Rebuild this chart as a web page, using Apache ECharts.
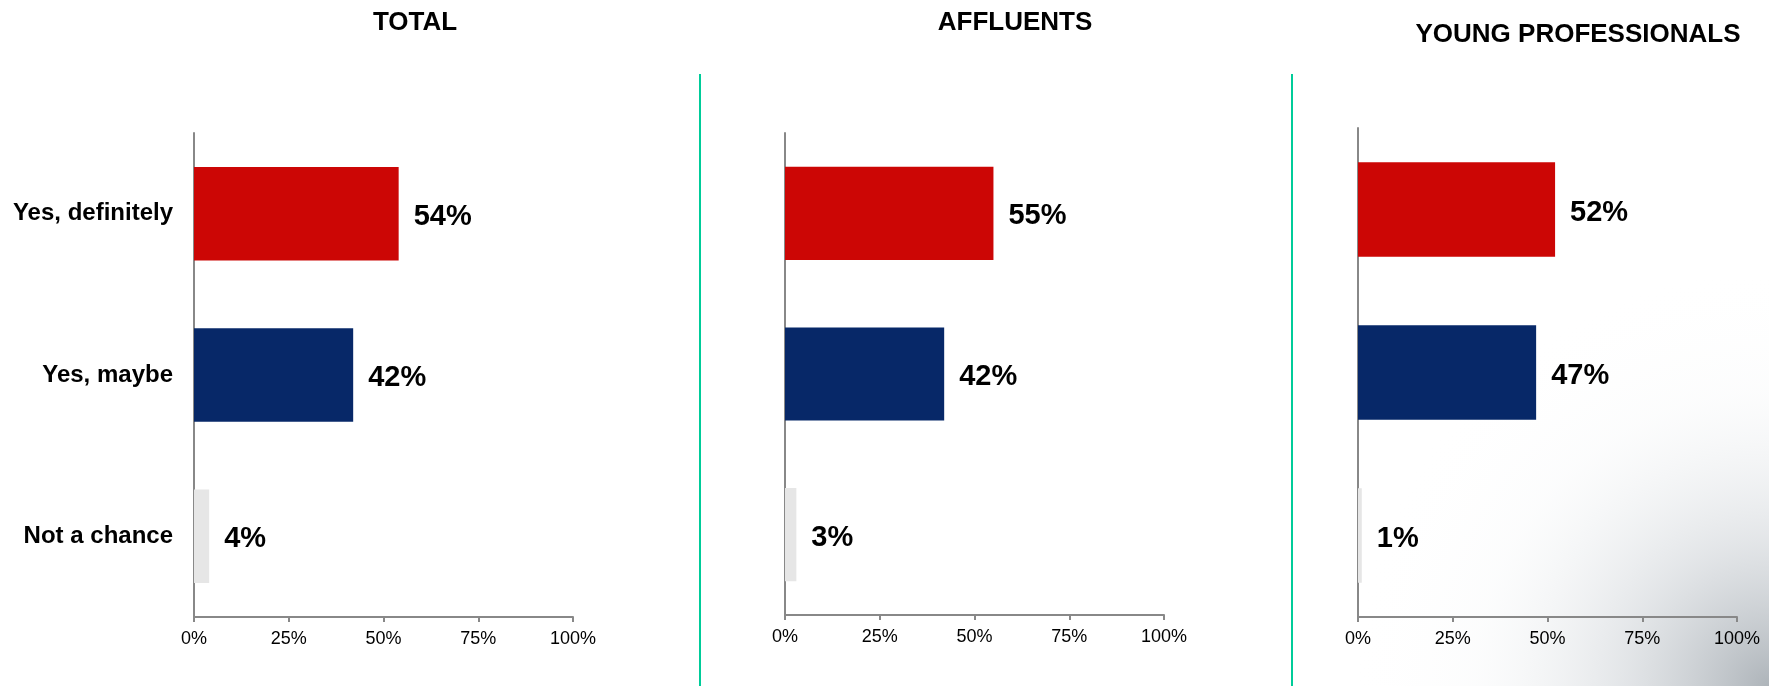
<!DOCTYPE html>
<html>
<head>
<meta charset="utf-8">
<script src="https://cdn.jsdelivr.net/npm/echarts@6/dist/echarts.min.js"></script>
<style>
  html, body { margin: 0; padding: 0; background: #fff; }
  #chart { width: 1769px; height: 686px; }
</style>
</head>
<body>
<div id="chart"></div>
<script>
// Answer options, top to bottom
const categories = ['Yes, definitely', 'Yes, maybe', 'Not a chance'];
// Panel titles
const panelTitles = ['TOTAL', 'AFFLUENTS', 'YOUNG PROFESSIONALS'];
// Shares per segment (%)
const totalValues = [54, 42, 4];
const affluentValues = [55, 42, 3];
const youngProValues = [52, 47, 1];
// Value-axis tick labels
const tickValues = [0, 25, 50, 75, 100];

const barColors = ['#CC0605', '#072868', '#E6E6E6'];
const font = 'Liberation Sans, Arial, sans-serif';

const panels = [
  { values: totalValues,    grid: { left: 194,  width: 379, top: 133, height: 484 }, showCats: true,
    title: { x: 415, y: 23 } },
  { values: affluentValues, grid: { left: 785,  width: 379, top: 133, height: 482 }, showCats: false,
    title: { x: 1015, y: 23 } },
  { values: youngProValues, grid: { left: 1358, width: 379, top: 128, height: 489 }, showCats: false,
    title: { x: 1578, y: 35 } }
];

const grids = [], xAxes = [], yAxes = [], series = [], graphics = [];

// soft grey sheen in the lower-right corner
graphics.push({
  type: 'circle', z: -10, silent: true,
  shape: { cx: 1769, cy: 686, r: 420 },
  style: {
    fill: {
      type: 'radial', x: 0.5, y: 0.5, r: 0.5,
      colorStops: [
        { offset: 0, color: 'rgba(165,172,178,0.9)' },
        { offset: 0.35, color: 'rgba(200,205,210,0.5)' },
        { offset: 0.7, color: 'rgba(235,238,240,0.15)' },
        { offset: 1, color: 'rgba(255,255,255,0)' }
      ]
    }
  }
});

// teal separators between panels
[700, 1292].forEach(x => {
  graphics.push({
    type: 'line', silent: true,
    shape: { x1: x, y1: 74, x2: x, y2: 686 },
    style: { stroke: '#00CC99', lineWidth: 2 }
  });
});

panels.forEach((p, i) => {
  grids.push(Object.assign({ containLabel: false }, p.grid));
  xAxes.push({
    type: 'value', gridIndex: i, min: 0, max: 100, interval: 25,
    axisLine: { show: true, lineStyle: { color: '#888', width: 2 } },
    axisTick: { show: true, length: 5, lineStyle: { color: '#888', width: 2 } },
    splitLine: { show: false },
    axisLabel: {
      color: '#000', fontFamily: font, fontSize: 18, margin: 13,
      formatter: v => tickValues.includes(v) ? v + '%' : ''
    }
  });
  yAxes.push({
    type: 'category', gridIndex: i, data: categories, inverse: true,
    axisLine: { show: true, lineStyle: { color: '#888', width: 2 } },
    axisTick: { show: false },
    axisLabel: {
      show: p.showCats, color: '#000', fontFamily: font, fontSize: 24,
      fontWeight: 'bold', margin: 21
    }
  });
  series.push({
    type: 'bar', xAxisIndex: i, yAxisIndex: i, barWidth: '58%',
    data: p.values.map((v, k) => ({ value: v, itemStyle: { color: barColors[k] } })),
    label: {
      show: true, position: 'right', distance: 15, offset: [0, 3],
      formatter: '{c}%', color: '#000', fontFamily: font,
      fontSize: 29, fontWeight: 'bold'
    },
    emphasis: { disabled: true }
  });
  graphics.push({
    type: 'text', x: p.title.x, y: p.title.y,
    style: {
      text: panelTitles[i], fill: '#000', font: 'bold 26px ' + font,
      align: 'center', verticalAlign: 'middle'
    }
  });
});

const chart = echarts.init(document.getElementById('chart'), null, { renderer: 'canvas' });
chart.setOption({
  backgroundColor: '#fff',
  animation: false,
  grid: grids,
  xAxis: xAxes,
  yAxis: yAxes,
  series: series,
  graphic: graphics
});
</script>
</body>
</html>
